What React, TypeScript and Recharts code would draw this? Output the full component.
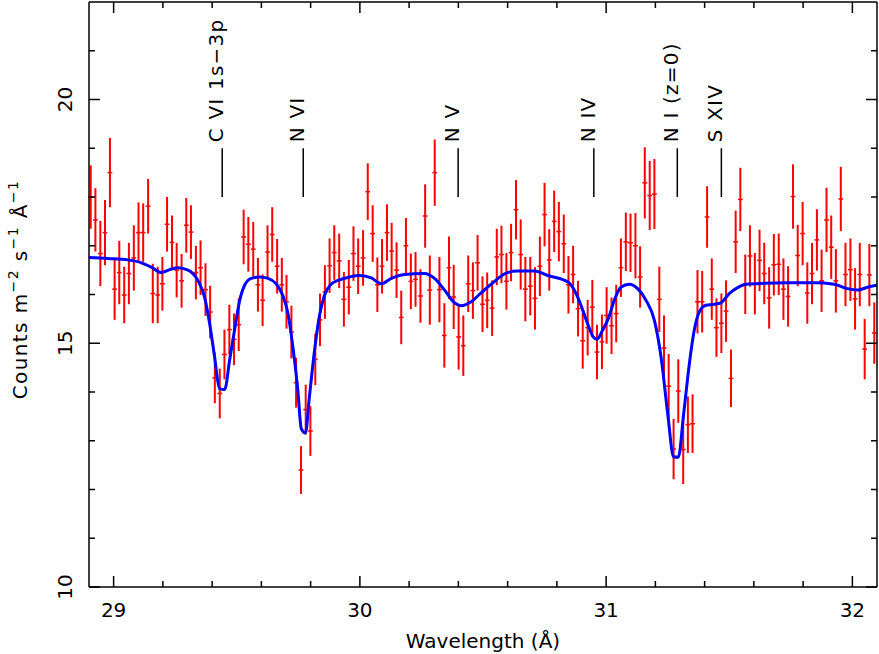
import { ComposedChart, Scatter, Line, XAxis, YAxis, ErrorBar, ReferenceLine } from 'recharts'

// spectrum bins (Å)
const wavelength = [
  28.907, 28.926, 28.946, 28.965, 28.985, 29.004, 29.023, 29.043, 29.062, 29.082,
  29.101, 29.120, 29.140, 29.159, 29.179, 29.198, 29.217, 29.237, 29.256, 29.276,
  29.295, 29.314, 29.334, 29.353, 29.373, 29.392, 29.411, 29.431, 29.450, 29.470,
  29.489, 29.508, 29.528, 29.547, 29.567, 29.586, 29.605, 29.625, 29.644, 29.664,
  29.683, 29.702, 29.722, 29.741, 29.761, 29.780, 29.799, 29.819, 29.838, 29.858,
  29.877, 29.896, 29.916, 29.935, 29.955, 29.974, 29.993, 30.013, 30.032, 30.052,
  30.071, 30.090, 30.110, 30.129, 30.149, 30.168, 30.187, 30.207, 30.226, 30.246,
  30.265, 30.284, 30.304, 30.323, 30.343, 30.362, 30.381, 30.401, 30.420, 30.440,
  30.459, 30.478, 30.498, 30.517, 30.537, 30.556, 30.575, 30.595, 30.614, 30.634,
  30.653, 30.672, 30.692, 30.711, 30.731, 30.750, 30.769, 30.789, 30.808, 30.828,
  30.847, 30.866, 30.886, 30.905, 30.925, 30.944, 30.963, 30.983, 31.002, 31.022,
  31.041, 31.060, 31.080, 31.099, 31.119, 31.138, 31.157, 31.177, 31.196, 31.216,
  31.235, 31.254, 31.274, 31.293, 31.313, 31.332, 31.351, 31.371, 31.390, 31.410,
  31.429, 31.448, 31.468, 31.487, 31.507, 31.526, 31.545, 31.565, 31.584, 31.604,
  31.623, 31.642, 31.662, 31.681, 31.701, 31.720, 31.739, 31.759, 31.778, 31.798,
  31.817, 31.836, 31.856, 31.875, 31.895, 31.914, 31.933, 31.953, 31.972, 31.992,
  32.011, 32.030, 32.050, 32.069, 32.089,
]

const counts = [
  18.00, 17.53, 16.84, 17.27, 18.50, 16.11, 16.45, 15.99, 16.43, 16.75,
  17.27, 17.27, 17.81, 16.02, 15.99, 16.22, 17.44, 17.07, 16.50, 16.28,
  17.42, 17.28, 16.45, 16.55, 16.10, 15.64, 14.29, 13.97, 14.77, 15.28,
  15.08, 15.38, 17.18, 17.03, 16.93, 16.20, 15.88, 16.87, 17.23, 16.58,
  16.20, 15.85, 15.23, 14.19, 12.40, 13.64, 13.20, 14.67, 15.48, 16.05,
  16.59, 16.86, 16.69, 15.90, 16.15, 16.84, 16.58, 16.75, 18.11, 17.25,
  16.20, 16.58, 17.27, 16.89, 16.50, 15.53, 17.00, 16.27, 16.31, 15.97,
  17.61, 16.09, 18.50, 16.10, 15.16, 16.55, 15.95, 15.13, 14.95, 16.22,
  16.08, 16.65, 15.80, 15.88, 15.72, 16.77, 16.82, 16.27, 16.86, 17.74,
  16.82, 16.11, 16.17, 15.92, 16.58, 17.64, 16.71, 17.50, 17.29, 17.04,
  16.20, 16.41, 15.71, 15.05, 15.32, 15.74, 14.82, 15.03, 15.57, 15.36,
  15.61, 16.55, 17.08, 17.06, 17.00, 16.36, 18.29, 18.03, 18.06, 15.90,
  14.90, 14.12, 12.83, 14.02, 12.82, 13.33, 13.35, 15.85, 15.85, 17.59,
  16.11, 15.32, 15.41, 15.66, 14.28, 17.08, 17.95, 16.21, 16.79, 16.22,
  16.70, 16.43, 15.93, 16.61, 16.62, 16.11, 15.96, 18.01, 16.80, 17.25,
  16.03, 16.43, 17.12, 16.28, 17.53, 16.97, 16.28, 17.96, 16.41, 16.51,
  15.91, 16.41, 14.88, 16.40, 15.21,
]

const countErr = [
  0.65, 0.65, 0.67, 0.67, 0.71, 0.63, 0.65, 0.58, 0.63, 0.67,
  0.62, 0.60, 0.56, 0.61, 0.58, 0.55, 0.56, 0.55, 0.56, 0.55,
  0.56, 0.55, 0.55, 0.56, 0.54, 0.54, 0.52, 0.51, 0.51, 0.51,
  0.53, 0.54, 0.56, 0.56, 0.56, 0.55, 0.53, 0.55, 0.56, 0.56,
  0.55, 0.55, 0.54, 0.51, 0.49, 0.51, 0.51, 0.53, 0.54, 0.55,
  0.56, 0.56, 0.56, 0.56, 0.56, 0.56, 0.57, 0.57, 0.58, 0.58,
  0.56, 0.56, 0.58, 0.58, 0.57, 0.55, 0.57, 0.57, 0.56, 0.55,
  0.65, 0.71, 0.68, 0.67, 0.66, 0.64, 0.66, 0.67, 0.62, 0.58,
  0.58, 0.57, 0.57, 0.57, 0.57, 0.58, 0.59, 0.58, 0.59, 0.61,
  0.72, 0.66, 0.60, 0.64, 0.61, 0.65, 0.63, 0.63, 0.61, 0.60,
  0.59, 0.59, 0.57, 0.57, 0.57, 0.56, 0.56, 0.56, 0.58, 0.58,
  0.59, 0.60, 0.60, 0.60, 0.67, 0.63, 0.73, 0.71, 0.72, 0.67,
  0.67, 0.66, 0.62, 0.65, 0.71, 0.58, 0.60, 0.65, 0.63, 0.63,
  0.63, 0.60, 0.61, 0.63, 0.59, 0.64, 0.65, 0.61, 0.63, 0.63,
  0.63, 0.63, 0.63, 0.63, 0.63, 0.63, 0.62, 0.66, 0.63, 0.65,
  0.63, 0.63, 0.63, 0.64, 0.66, 0.65, 0.65, 0.66, 0.65, 0.64,
  0.63, 0.65, 0.62, 0.64, 0.63,
]

const HALF_BIN = 0.0097

// fitted model
const modelWave = [
  28.9, 28.977, 29.058, 29.113, 29.153, 29.194, 29.228, 29.261, 29.302, 29.342,
  29.369, 29.39, 29.41, 29.43, 29.451, 29.471, 29.491, 29.512, 29.532, 29.559,
  29.593, 29.627, 29.66, 29.687, 29.708, 29.728, 29.748, 29.762, 29.779, 29.795,
  29.816, 29.836, 29.856, 29.883, 29.917, 29.958, 29.998, 30.046, 30.087, 30.128,
  30.181, 30.262, 30.303, 30.344, 30.384, 30.411, 30.452, 30.485, 30.533, 30.594,
  30.641, 30.709, 30.763, 30.844, 30.878, 30.905, 30.925, 30.946, 30.963, 30.986,
  31.01, 31.033, 31.06, 31.094, 31.128, 31.162, 31.196, 31.223, 31.25, 31.274,
  31.293, 31.315, 31.338, 31.358, 31.378, 31.405, 31.439, 31.466, 31.5, 31.534,
  31.568, 31.642, 31.736, 31.845, 31.926, 31.98, 32.021, 32.061, 32.1,
]
const modelFlux = [
  16.76, 16.74, 16.71, 16.65, 16.56, 16.45, 16.51, 16.55, 16.50, 16.29,
  15.95, 15.40, 14.72, 14.07, 14.05, 14.65, 15.27, 15.88, 16.19, 16.33,
  16.36, 16.33, 16.22, 15.98, 15.61, 14.92, 14.04, 13.25, 13.16, 13.90,
  14.86, 15.57, 15.98, 16.21, 16.30, 16.36, 16.39, 16.34, 16.22, 16.33,
  16.41, 16.43, 16.33, 16.09, 15.83, 15.77, 15.85, 16.00, 16.21, 16.44,
  16.48, 16.48, 16.39, 16.26, 16.02, 15.68, 15.40, 15.14, 15.08, 15.27,
  15.52, 15.88, 16.15, 16.21, 16.12, 15.88, 15.47, 14.72, 13.56, 12.67,
  12.66, 13.56, 14.58, 15.27, 15.64, 15.78, 15.80, 15.83, 16.02, 16.14,
  16.21, 16.23, 16.24, 16.24, 16.21, 16.12, 16.09, 16.15, 16.19,
]

const lineNames = ['C VI 1s\u22123p', 'N VI', 'N V', 'N IV', 'N I (z=0)', 'S XIV']
const lineWave = [29.441, 29.77, 30.399, 30.95, 31.289, 31.468]

const xMajor = [29, 30, 31, 32]
const xTicks = [29, 29.2, 29.4, 29.6, 29.8, 30, 30.2, 30.4, 30.6, 30.8, 31, 31.2, 31.4, 31.6, 31.8, 32]
const yMajor = [10, 15, 20]
const yTicks = [10, 11, 12, 13, 14, 15, 16, 17, 18, 19, 20, 21]

const points = wavelength.map((w, i) => ({ w, c: counts[i], e: countErr[i], we: HALF_BIN }))
const model = modelWave.map((w, i) => ({ w, m: modelFlux[i] }))
const marks = lineWave.map((w, i) => ({ w, c: 19, name: lineNames[i] }))

const FONT = '"DejaVu Sans", sans-serif'
const INK = '#000'

function BottomTick({ x, y, payload }: any) {
  const major = xMajor.includes(payload.value)
  return (
    <g>
      <line x1={x} x2={x} y1={y} y2={y - (major ? 11 : 6)} stroke={INK} strokeWidth={1.5} />
      {major && (
        <text x={x} y={y + 30} textAnchor="middle" fontSize={20} fontFamily={FONT} fill={INK}>
          {payload.value}
        </text>
      )}
    </g>
  )
}

function TopTick({ x, y, payload }: any) {
  const major = xMajor.includes(payload.value)
  return <line x1={x} x2={x} y1={y} y2={y + (major ? 11 : 6)} stroke={INK} strokeWidth={1.5} />
}

function LeftTick({ x, y, payload }: any) {
  const major = yMajor.includes(payload.value)
  const tx = x - 17
  return (
    <g>
      <line x1={x} x2={x + (major ? 11 : 6)} y1={y} y2={y} stroke={INK} strokeWidth={1.5} />
      {major && (
        <text x={tx} y={y} transform={`rotate(-90 ${tx} ${y})`} textAnchor="middle" fontSize={20} fontFamily={FONT} fill={INK}>
          {payload.value}
        </text>
      )}
    </g>
  )
}

function RightTick({ x, y, payload }: any) {
  const major = yMajor.includes(payload.value)
  return <line x1={x} x2={x - (major ? 11 : 6)} y1={y} y2={y} stroke={INK} strokeWidth={1.5} />
}

function XLabel({ viewBox }: any) {
  const cx = viewBox.x + viewBox.width / 2
  return (
    <text x={cx} y={viewBox.y + 61} textAnchor="middle" fontSize={20} fontFamily={FONT} fill={INK}>
      Wavelength (Å)
    </text>
  )
}

function YLabel({ viewBox }: any) {
  const tx = viewBox.x + 27
  const ty = viewBox.y + viewBox.height / 2 - 5
  return (
    <text x={tx} y={ty} transform={`rotate(-90 ${tx} ${ty})`} textAnchor="middle" fontSize={20} fontFamily={FONT} fill={INK} letterSpacing={1.4} style={{ whiteSpace: 'pre' }}>
      Counts m
      <tspan fontSize={14} dy={-9}>{'\u22122'}</tspan>
      <tspan dy={9}> s</tspan>
      <tspan fontSize={14} dy={-9}>{'\u22121'}</tspan>
      <tspan dy={9}> Å</tspan>
      <tspan fontSize={14} dy={-9}>{'\u22121'}</tspan>
    </text>
  )
}

function MarkLabel({ cx, cy, payload }: any) {
  const tx = cx + 1
  const ty = cy - 6
  return (
    <text x={tx} y={ty} transform={`rotate(-90 ${tx} ${ty})`} fontSize={20} fontFamily={FONT} fill={INK} letterSpacing={1.2} style={{ whiteSpace: 'pre' }}>
      {payload.name}
    </text>
  )
}

export default function App() {
  return (
    <div style={{ position: 'absolute', left: 0, top: 0, width: 879, height: 654, background: '#fff' }}>
      <ComposedChart width={879} height={654} margin={{ top: 1, right: 1, bottom: 0, left: 0 }}>
        <XAxis
          xAxisId="main"
          dataKey="w"
          type="number"
          domain={[28.9, 32.1]}
          allowDataOverflow
          ticks={xTicks}
          interval={0}
          height={67}
          tickSize={0}
          tickMargin={0}
          tickLine={false}
          tick={<BottomTick />}
          axisLine={{ stroke: INK, strokeWidth: 1.5 }}
          label={XLabel}
        />
        <XAxis
          xAxisId="top"
          orientation="top"
          dataKey="w"
          type="number"
          domain={[28.9, 32.1]}
          allowDataOverflow
          ticks={xTicks}
          interval={0}
          height={1}
          tickSize={0}
          tickMargin={0}
          tickLine={false}
          tick={<TopTick />}
          axisLine={{ stroke: INK, strokeWidth: 1.5 }}
        />
        <YAxis
          yAxisId="main"
          type="number"
          domain={[10, 22]}
          allowDataOverflow
          ticks={yTicks}
          interval={0}
          width={89}
          tickSize={0}
          tickMargin={0}
          tickLine={false}
          tick={<LeftTick />}
          axisLine={{ stroke: INK, strokeWidth: 1.5 }}
          label={YLabel}
        />
        <YAxis
          yAxisId="right"
          orientation="right"
          type="number"
          domain={[10, 22]}
          allowDataOverflow
          ticks={yTicks}
          interval={0}
          width={1}
          tickSize={0}
          tickMargin={0}
          tickLine={false}
          tick={<RightTick />}
          axisLine={{ stroke: INK, strokeWidth: 1.5 }}
        />

        {lineWave.map((w) => (
          <ReferenceLine
            key={w}
            xAxisId="main"
            yAxisId="main"
            segment={[{ x: w, y: 18 }, { x: w, y: 19 }]}
            stroke={INK}
            strokeWidth={1.5}
          />
        ))}

        {/* invisible series so the mirrored frame axes get drawn */}
        <Scatter
          xAxisId="top"
          yAxisId="right"
          data={marks}
          dataKey="c"
          shape={() => <g />}
          isAnimationActive={false}
        />

        <Scatter
          xAxisId="main"
          yAxisId="main"
          data={points}
          dataKey="c"
          shape={() => <g />}
          isAnimationActive={false}
        >
          <ErrorBar dataKey="e" direction="y" width={0} stroke="#ff0000" strokeWidth={2} isAnimationActive={false} />
          <ErrorBar dataKey="we" direction="x" width={0} stroke="#ff0000" strokeWidth={1.5} isAnimationActive={false} />
        </Scatter>

        <Line
          xAxisId="main"
          yAxisId="main"
          data={model}
          dataKey="m"
          type="monotone"
          stroke="#0000ff"
          strokeWidth={3}
          dot={false}
          activeDot={false}
          isAnimationActive={false}
        />

        <Scatter
          xAxisId="main"
          yAxisId="main"
          data={marks}
          dataKey="c"
          shape={<MarkLabel />}
          isAnimationActive={false}
        />
      </ComposedChart>
    </div>
  )
}
